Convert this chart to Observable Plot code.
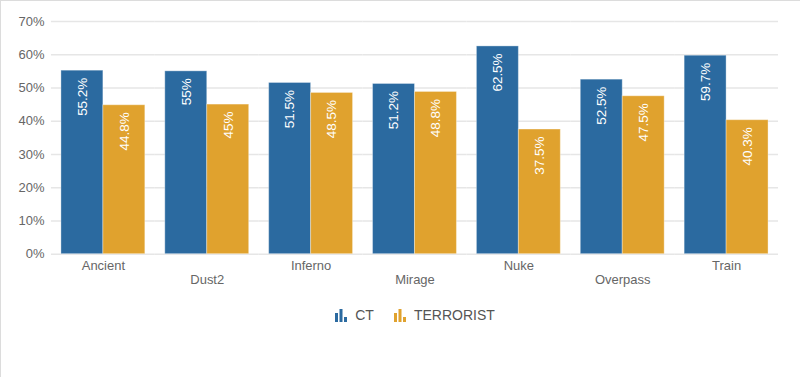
<!DOCTYPE html>
<html>
<head>
<meta charset="utf-8">
<script src="https://cdn.jsdelivr.net/npm/d3@7"></script>
<script src="https://cdn.jsdelivr.net/npm/@observablehq/plot@0.6"></script>
<style>
  html, body { margin: 0; padding: 0; background: #fff; }
  #frame { width: 800px; height: 377px; box-sizing: border-box; border-top: 1px solid #dcdcdc; border-left: 1px solid #dcdcdc; position: relative; overflow: hidden; font-family: "Liberation Sans", Arial, sans-serif; }
  #chart svg { display: block; }
  #legend { position: absolute; top: 306px; left: 0; width: 800px; display: flex; justify-content: center; padding-left: 28px; box-sizing: border-box; font-size: 14px; color: #555; }
  .item { display: flex; align-items: center; margin: 0 10px; }
  .item svg { margin-right: 8px; }
</style>
</head>
<body>
<div id="frame">
  <div id="chart"></div>
  <div id="legend"></div>
</div>
<script>
const maps = ["Ancient", "Dust2", "Inferno", "Mirage", "Nuke", "Overpass", "Train"];
const teams = ["CT", "TERRORIST"];
const ctValues = [55.2, 55, 51.5, 51.2, 62.5, 52.5, 59.7];
const tValues = [44.8, 45, 48.5, 48.8, 37.5, 47.5, 40.3];
const yTicks = [0, 10, 20, 30, 40, 50, 60, 70];
const colors = ["#2b6aa0", "#e0a22e"];

const data = [];
maps.forEach((m, i) => {
  data.push({map: m, team: "CT", value: ctValues[i]});
  data.push({map: m, team: "TERRORIST", value: tValues[i]});
});
const labels = maps.map((m, i) => ({map: m, i}));

const chart = Plot.plot({
  width: 800,
  height: 300,
  marginTop: 20,
  marginBottom: 47,
  marginLeft: 49,
  marginRight: 21,
  style: {fontFamily: "'Liberation Sans', Arial, sans-serif", fontSize: "13px", color: "#666", background: "transparent"},
  fx: {domain: maps, padding: 0, axis: null, label: null},
  x: {domain: teams, paddingInner: 0, paddingOuter: 0.22, axis: null, label: null},
  y: {domain: [0, 70], ticks: yTicks, tickFormat: d => d + "%", tickSize: 0, tickPadding: 7, label: null},
  color: {domain: teams, range: colors},
  marks: [
    Plot.ruleY(yTicks, {stroke: "#e6e6e6", strokeWidth: 1.5}),
    Plot.barY(data, {fx: "map", x: "team", y: "value", fill: "team", stroke: "#ffffff", strokeOpacity: 0.35, strokeWidth: 1}),
    Plot.text(data, {fx: "map", x: "team", y: "value", text: d => d.value + "%", rotate: -90, textAnchor: "end", lineAnchor: "middle", dy: 7, fill: "white", fontSize: 13.5}),
    Plot.text(labels, {fx: "map", text: "map", frameAnchor: "bottom", lineAnchor: "top", fill: "#666", fontSize: 13, filter: d => d.i % 2 === 0, dy: 7}),
    Plot.text(labels, {fx: "map", text: "map", frameAnchor: "bottom", lineAnchor: "top", fill: "#666", fontSize: 13, filter: d => d.i % 2 === 1, dy: 21})
  ]
});
document.getElementById("chart").appendChild(chart);

const legend = document.getElementById("legend");
teams.forEach((t, i) => {
  const item = document.createElement("div");
  item.className = "item";
  const c = colors[i];
  item.innerHTML = `<svg width="12" height="13" viewBox="0 0 12 13"><rect x="0" y="4" width="3" height="9" fill="${c}"/><rect x="4.5" y="0" width="3" height="13" fill="${c}"/><rect x="9" y="8" width="3" height="5" fill="${c}"/></svg><span>${t}</span>`;
  legend.appendChild(item);
});
</script>
</body>
</html>
